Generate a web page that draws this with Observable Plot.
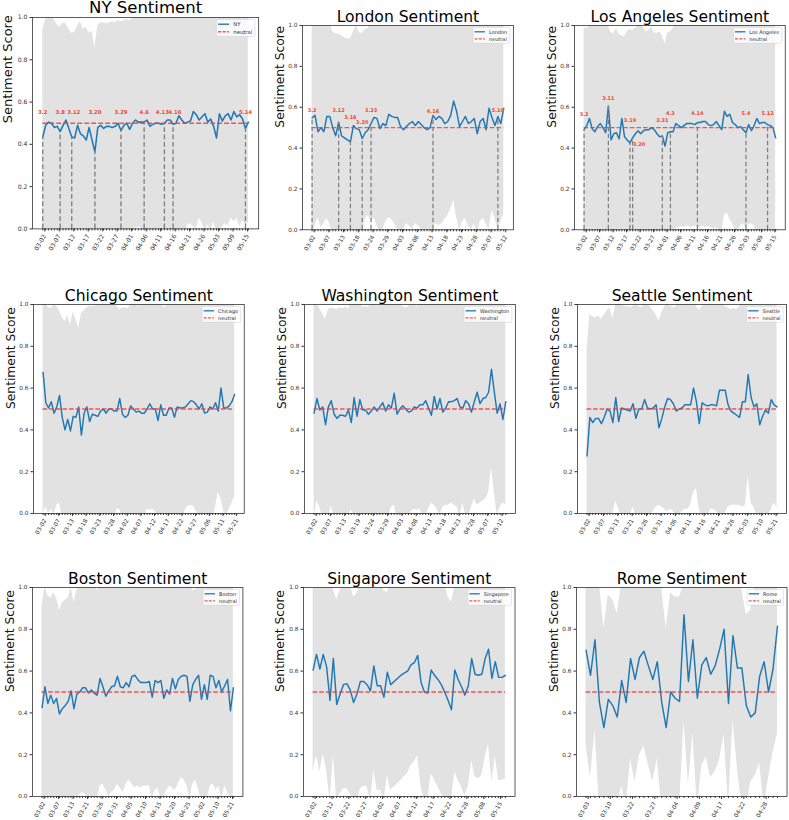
<!DOCTYPE html>
<html><head><meta charset="utf-8">
<script src="https://cdn.jsdelivr.net/npm/d3@7"></script>
<script src="https://cdn.jsdelivr.net/npm/@observablehq/plot@0.6"></script>
<style>
html,body{margin:0;padding:0;background:#fff;}
#root{position:relative;width:789px;height:820px;overflow:hidden;font-family:"DejaVu Sans",sans-serif;}
#root svg{position:absolute;overflow:visible;}
</style></head><body><div id="root"></div>
<script>
const NEUTRAL = 0.5;

// ---------- NY ----------
const nyTicks = ["03-02","03-07","03-12","03-17","03-22","03-27","04-01","04-06","04-11","04-16","04-21","04-26","05-03","05-09","05-15"];
const nyValues = [0.435,0.49,0.505,0.50,0.48,0.485,0.46,0.49,0.515,0.475,
 0.435,0.43,0.49,0.45,0.44,0.42,0.48,0.42,0.365,0.48,
 0.49,0.475,0.485,0.485,0.48,0.485,0.50,0.465,0.49,0.50,
 0.47,0.50,0.515,0.505,0.505,0.505,0.515,0.485,0.495,0.50,
 0.50,0.495,0.50,0.515,0.515,0.495,0.50,0.535,0.515,0.50,
 0.505,0.51,0.555,0.54,0.515,0.53,0.545,0.505,0.52,0.485,
 0.43,0.545,0.51,0.535,0.545,0.515,0.555,0.53,0.54,0.52,
 0.475,0.505];
const nyUpper = [0.94,0.99,1.0,1.0,0.99,0.965,0.955,0.975,0.97,0.945,
 0.925,0.93,0.96,0.98,0.945,0.955,0.925,0.935,0.855,0.96,
 0.975,0.975,0.97,0.975,0.98,0.975,0.985,0.98,0.985,0.99,
 0.985,0.995,1.01,1.02,1.02,1.02,1.02,0.995,1.02,1.02,
 1.02,1.02,1.02,1.02,1.02,1.02,1.02,1.02,1.02,1.02,
 1.02,1.02,1.02,1.02,1.02,1.02,1.02,1.02,1.02,1.02,
 1.02,1.02,1.02,1.02,1.02,1.02,1.02,1.02,1.02,1.02,
 1.02,1.02];
const nyLower = [-0.03,-0.03,-0.03,-0.03,-0.03,-0.03,-0.03,-0.03,-0.03,-0.03,
 -0.03,-0.03,-0.03,-0.03,-0.03,-0.03,-0.03,-0.03,-0.03,-0.03,
 -0.03,-0.03,-0.03,-0.03,-0.03,-0.03,-0.03,-0.03,-0.03,-0.03,
 -0.03,-0.03,0.005,0.008,0.004,-0.03,-0.03,-0.03,-0.03,-0.03,
 -0.03,-0.03,-0.03,-0.03,-0.03,-0.03,-0.03,-0.03,-0.03,-0.03,
 0.02,0.025,0.01,0.0,0.05,0.03,-0.01,0.02,-0.01,0.035,
 -0.01,-0.01,0.01,0.025,0.015,0.05,0.035,0.05,0.01,0.04,
 0.02,0.03];
const nyEvents = [
 {i:0,label:"3.2",y:0.552},{i:6,label:"3.8",y:0.552},{i:10,label:"3.12",y:0.552,lx:10.7},
 {i:18,label:"3.20",y:0.552},{i:27,label:"3.29",y:0.552},{i:35,label:"4.6",y:0.552},
 {i:42,label:"4.13",y:0.552,lx:41.3},{i:45,label:"4.16",y:0.552,lx:45.6},{i:70,label:"5.14",y:0.552}];

// ---------- London ----------
const londonTicks = ["03-02","03-07","03-13","03-18","03-24","03-29","04-03","04-08","04-13","04-18","04-23","04-28","05-07","05-12"];
const londonValues = [0.548,0.56,0.48,0.50,0.48,0.555,0.555,0.50,0.46,0.527,
 0.46,0.45,0.44,0.43,0.51,0.495,0.49,0.447,0.475,0.49,
 0.52,0.55,0.545,0.495,0.52,0.51,0.565,0.555,0.55,0.55,
 0.505,0.49,0.505,0.52,0.53,0.51,0.53,0.515,0.50,0.49,
 0.50,0.56,0.54,0.555,0.545,0.52,0.53,0.56,0.63,0.58,
 0.505,0.53,0.555,0.52,0.53,0.545,0.47,0.53,0.545,0.49,
 0.595,0.55,0.51,0.555,0.52,0.595];
const londonUpper = [1.02,1.02,1.02,1.02,1.02,1.02,1.02,0.97,0.96,0.96,
 0.95,0.94,0.935,0.935,0.97,1.0,0.965,0.96,0.98,0.985,
 1.02,1.02,1.02,1.02,1.02,1.02,1.02,1.02,1.02,1.02,
 1.02,1.02,1.02,1.02,1.02,1.02,1.02,1.02,1.02,1.02,
 1.02,1.02,1.02,1.02,1.02,1.02,1.02,1.02,1.02,1.02,
 1.02,1.02,1.02,1.02,1.02,1.02,1.02,1.02,1.02,1.02,
 1.02,1.02,1.02,1.02,1.02,1.02];
const londonLower = [-0.02,0.02,0.06,0.01,0.03,0.055,0.03,-0.02,-0.02,-0.02,
 -0.02,-0.02,-0.02,-0.02,-0.02,-0.02,-0.02,-0.01,0.05,0.07,
 0.04,0.06,0.02,-0.01,0.0,0.04,0.06,0.05,0.03,0.0,
 -0.02,0.0,0.03,0.02,0.0,0.03,0.02,0.0,-0.02,-0.02,
 -0.02,0.01,0.03,0.02,0.03,0.05,0.07,0.1,0.145,0.06,
 0.0,0.04,0.055,0.02,0.0,0.03,-0.02,0.04,0.055,0.03,
 0.0,0.095,0.06,0.0,0.04,0.08];
const londonEvents = [
 {i:0,label:"3.2",y:0.584},{i:9,label:"3.12",y:0.584},{i:13,label:"3.16",y:0.551},
 {i:17,label:"3.20",y:0.527},{i:20,label:"3.23",y:0.584},{i:41,label:"4.16",y:0.579},
 {i:63,label:"5.10",y:0.584}];

// ---------- Los Angeles ----------
const laTicks = ["03-02","03-07","03-12","03-17","03-22","03-27","04-01","04-06","04-11","04-16","04-21","04-26","05-03","05-09","05-15"];
const laValues = [0.49,0.51,0.545,0.495,0.48,0.505,0.52,0.50,0.475,0.605,
 0.44,0.47,0.475,0.445,0.545,0.455,0.44,0.425,0.45,0.47,
 0.485,0.47,0.485,0.49,0.49,0.50,0.49,0.47,0.455,0.46,
 0.41,0.475,0.48,0.48,0.52,0.51,0.50,0.51,0.52,0.52,
 0.52,0.515,0.525,0.525,0.53,0.53,0.515,0.51,0.515,0.53,
 0.51,0.49,0.58,0.555,0.565,0.525,0.515,0.50,0.505,0.49,
 0.475,0.515,0.485,0.51,0.545,0.52,0.525,0.525,0.515,0.51,
 0.50,0.45];
const laUpper = [0.99,0.985,1.0,1.02,1.02,1.02,1.02,1.02,1.02,1.0,
 0.965,0.96,0.985,0.955,0.95,0.945,0.97,0.98,0.975,0.985,
 1.0,1.0,0.99,0.97,0.975,0.99,0.965,0.96,0.97,0.95,
 0.91,0.965,0.97,0.985,1.02,1.02,1.02,1.02,1.02,1.02,
 1.02,1.02,1.02,1.02,1.02,1.02,1.02,1.02,1.02,1.02,
 1.02,1.02,1.02,1.02,1.02,1.02,1.02,1.02,1.02,1.02,
 1.02,1.02,1.02,1.02,1.02,1.02,1.02,1.02,1.02,1.02,
 1.02,1.02];
const laLower = [-0.03,-0.03,-0.03,-0.03,-0.03,-0.03,-0.03,-0.03,-0.03,-0.03,
 -0.03,-0.03,-0.03,-0.03,-0.03,-0.03,-0.03,-0.03,-0.03,-0.03,
 -0.03,-0.03,-0.03,-0.03,-0.03,-0.03,-0.03,-0.03,-0.03,-0.03,
 -0.03,-0.03,-0.03,-0.03,0.005,0.01,0.015,0.01,0.02,0.015,
 0.01,0.02,0.015,0.01,0.02,0.01,0.015,0.01,0.005,0.01,
 0.0,-0.01,0.07,0.085,0.05,0.03,0.0,-0.01,0.02,0.03,
 0.01,0.025,0.03,0.02,-0.02,-0.02,-0.02,-0.02,-0.02,-0.02,
 -0.02,-0.02];
const laEvents = [
 {i:0,label:"3.2",y:0.564},{i:9,label:"3.11",y:0.644},{i:17,label:"3.19",y:0.535},
 {i:18,label:"3.20",y:0.418,lx:20.4},{i:29,label:"3.31",y:0.535},{i:32,label:"4.3",y:0.568},
 {i:42,label:"4.14",y:0.568},{i:60,label:"5.4",y:0.568},{i:68,label:"5.12",y:0.568}];

// ---------- Chicago ----------
const chicagoTicks = ["03-02","03-07","03-13","03-18","03-23","03-28","04-02","04-07","04-12","04-17","04-22","04-27","05-06","05-11","05-21"];
const chicagoValues = [0.675,0.53,0.505,0.535,0.48,0.51,0.565,0.46,0.40,0.45,
 0.395,0.465,0.46,0.51,0.375,0.48,0.51,0.44,0.475,0.47,
 0.465,0.49,0.50,0.48,0.50,0.50,0.49,0.49,0.55,0.475,
 0.46,0.47,0.515,0.50,0.485,0.49,0.48,0.48,0.50,0.525,
 0.50,0.50,0.445,0.52,0.47,0.47,0.505,0.505,0.46,0.51,
 0.505,0.505,0.51,0.525,0.54,0.535,0.52,0.50,0.525,0.48,
 0.485,0.51,0.50,0.53,0.49,0.60,0.505,0.505,0.515,0.535,
 0.57];
const chicagoUpper = [1.02,1.0,0.985,0.98,1.0,0.99,0.97,0.94,0.917,0.95,
 0.90,0.965,0.93,0.885,0.955,0.97,0.985,0.99,0.99,0.99,
 1.0,1.02,1.02,1.02,1.02,1.02,1.0,0.99,0.975,0.985,
 0.985,0.98,1.0,1.02,1.0,0.99,1.02,1.02,1.02,1.0,
 1.02,1.02,1.02,1.02,0.985,0.99,1.02,1.02,1.02,1.02,
 1.02,1.02,1.02,1.02,1.02,1.02,1.02,1.02,1.02,1.02,
 1.02,1.02,1.02,1.02,1.02,1.02,1.02,1.02,1.02,1.02,
 1.02];
const chicagoLower = [0.0,0.03,0.0,0.02,-0.01,0.04,0.05,-0.02,-0.03,-0.03,
 -0.03,-0.03,-0.03,-0.03,-0.03,-0.03,-0.03,-0.03,-0.03,-0.03,
 -0.03,-0.03,-0.03,-0.03,-0.03,-0.03,-0.03,0.02,0.02,-0.03,
 -0.03,-0.03,-0.03,-0.03,-0.03,-0.03,-0.03,-0.03,0.02,0.015,
 0.02,0.01,-0.03,-0.03,-0.03,-0.03,-0.03,-0.03,-0.03,-0.03,
 -0.03,-0.03,0.02,0.035,0.04,0.035,0.01,-0.02,-0.02,-0.02,
 -0.02,-0.02,-0.02,0.03,0.1,0.07,0.01,-0.01,0.02,0.05,
 0.08];

// ---------- Washington ----------
const washingtonTicks = ["03-02","03-07","03-13","03-19","03-24","03-29","04-03","04-08","04-13","04-18","04-23","04-28","05-07","05-12"];
const washingtonValues = [0.48,0.55,0.495,0.51,0.425,0.51,0.54,0.475,0.455,0.47,
 0.47,0.465,0.495,0.435,0.555,0.465,0.545,0.495,0.495,0.475,
 0.49,0.51,0.49,0.51,0.53,0.49,0.52,0.505,0.575,0.475,
 0.50,0.515,0.50,0.485,0.49,0.51,0.505,0.52,0.52,0.54,
 0.505,0.47,0.56,0.50,0.55,0.485,0.505,0.535,0.535,0.54,
 0.55,0.51,0.505,0.54,0.525,0.485,0.535,0.58,0.525,0.55,
 0.555,0.58,0.69,0.58,0.48,0.525,0.45,0.535];
const washingtonUpper = [1.02,1.0,0.98,0.955,0.93,0.975,0.985,0.98,0.975,0.985,
 0.98,0.99,0.975,1.02,1.02,1.02,1.02,0.985,0.99,0.985,
 1.02,1.02,0.99,1.02,1.02,1.02,1.02,1.02,1.02,1.02,
 1.02,0.99,0.985,0.99,1.02,1.02,0.985,1.02,1.02,1.02,
 1.02,1.02,1.02,1.02,1.02,1.02,1.02,1.02,1.02,1.02,
 1.02,1.02,1.02,1.02,1.02,1.02,1.02,1.02,1.02,1.02,
 1.02,1.02,1.02,1.02,1.02,1.02,1.02,1.02];
const washingtonLower = [-0.02,0.06,0.03,-0.02,-0.02,-0.02,0.04,-0.02,-0.02,-0.02,
 -0.02,-0.02,-0.02,0.02,-0.02,-0.02,-0.02,-0.02,-0.02,-0.02,
 -0.02,-0.02,-0.02,-0.02,-0.02,-0.02,-0.02,0.03,0.04,-0.02,
 -0.02,-0.02,-0.02,-0.02,0.01,0.02,0.015,0.02,-0.01,-0.01,
 0.02,0.05,0.04,0.02,-0.01,0.03,0.04,0.04,0.05,0.04,
 0.03,-0.01,0.05,-0.01,-0.01,0.03,0.07,0.04,0.05,0.06,
 0.07,0.1,0.22,0.1,-0.01,0.03,0.05,0.04];

// ---------- Seattle ----------
const seattleTicks = ["03-02","03-07","03-13","03-21","03-26","03-31","04-06","04-11","04-16","04-21","04-26","05-03","05-10","05-21"];
const seattleValues = [0.275,0.46,0.435,0.455,0.455,0.43,0.46,0.50,0.49,0.435,
 0.555,0.44,0.505,0.50,0.495,0.49,0.525,0.455,0.50,0.50,
 0.545,0.505,0.50,0.505,0.52,0.41,0.455,0.51,0.55,0.545,
 0.525,0.49,0.50,0.505,0.52,0.52,0.52,0.60,0.535,0.43,
 0.53,0.52,0.515,0.52,0.52,0.515,0.59,0.59,0.59,0.52,
 0.49,0.48,0.47,0.46,0.535,0.535,0.665,0.555,0.51,0.525,
 0.425,0.465,0.495,0.48,0.545,0.52,0.51];
const seattleUpper = [0.78,0.955,0.94,0.935,0.945,0.93,0.95,0.97,0.985,0.93,
 1.0,1.02,1.0,0.99,0.99,0.985,0.99,1.0,0.99,0.985,
 1.0,1.0,0.99,0.97,0.95,0.92,0.96,0.99,1.0,0.99,
 0.985,0.99,1.02,1.02,1.02,1.02,1.02,1.02,0.99,0.97,
 0.99,1.02,1.02,1.02,1.02,1.02,1.02,1.02,0.99,0.985,
 0.975,0.98,0.975,0.99,1.02,1.02,1.02,1.02,1.02,1.02,
 1.02,1.02,1.02,1.02,1.02,1.02,1.02];
const seattleLower = [-0.05,-0.02,-0.02,-0.02,-0.02,-0.02,-0.02,-0.02,-0.02,0.0,
 0.06,0.02,-0.02,-0.02,-0.02,-0.01,0.03,-0.01,-0.02,-0.02,
 -0.02,-0.02,-0.01,0.01,0.03,0.04,0.03,0.02,0.01,0.02,
 0.01,-0.01,-0.01,0.01,0.02,0.02,0.04,0.1,0.12,0.02,
 -0.01,-0.01,-0.01,0.02,0.02,0.01,-0.01,-0.01,0.0,0.03,
 0.04,0.04,0.04,0.04,0.03,0.04,0.18,0.05,0.03,-0.01,
 -0.02,-0.02,-0.02,-0.01,0.02,0.05,0.03];

// ---------- Boston ----------
const bostonTicks = ["03-02","03-07","03-13","03-21","03-26","03-31","04-05","04-10","04-15","04-20","04-25","05-02","05-10","05-21"];
const bostonValues = [0.425,0.525,0.445,0.485,0.445,0.47,0.395,0.42,0.435,0.455,
 0.505,0.42,0.49,0.50,0.52,0.52,0.495,0.51,0.495,0.485,
 0.565,0.525,0.48,0.505,0.525,0.53,0.575,0.525,0.52,0.545,
 0.525,0.575,0.58,0.56,0.545,0.545,0.545,0.55,0.475,0.555,
 0.545,0.555,0.47,0.51,0.49,0.565,0.515,0.56,0.575,0.58,
 0.575,0.455,0.535,0.56,0.58,0.465,0.535,0.465,0.58,0.575,
 0.52,0.555,0.50,0.53,0.56,0.41,0.52];
const bostonUpper = [0.915,1.0,0.96,0.95,0.975,0.95,0.89,0.925,0.94,0.95,
 1.0,0.93,0.985,1.02,1.02,1.02,1.02,1.02,1.02,0.985,
 1.02,1.02,1.02,1.02,1.02,1.02,1.02,1.02,1.02,1.02,
 1.02,1.02,1.02,1.02,1.02,1.02,1.02,1.02,1.02,1.02,
 1.02,1.02,1.02,1.02,1.02,1.02,1.02,1.02,1.02,1.02,
 1.02,1.02,0.985,0.99,1.02,1.02,1.02,1.02,1.02,1.02,
 1.02,1.02,1.02,1.02,1.02,1.02,1.02];
const bostonLower = [-0.03,-0.03,-0.03,-0.03,-0.03,-0.03,-0.03,-0.03,-0.03,-0.03,
 -0.03,-0.03,-0.03,0.01,0.02,0.01,-0.02,-0.02,-0.02,-0.02,
 0.05,0.06,0.03,0.0,0.02,0.03,0.06,0.04,0.02,0.06,
 0.08,0.06,0.04,0.05,0.04,0.05,0.05,0.05,-0.01,0.03,
 0.04,-0.01,-0.01,0.03,0.05,0.04,0.03,0.06,0.09,0.08,
 0.05,-0.01,0.06,0.08,0.03,-0.01,-0.01,-0.01,0.05,0.06,
 0.03,0.05,-0.01,0.05,0.02,-0.01,-0.01];

// ---------- Singapore ----------
const singaporeTicks = ["03-02","03-12","03-22","03-27","04-02","04-07","04-12","04-17","04-22","04-28","05-08","05-15"];
const singaporeValues = [0.605,0.68,0.61,0.68,0.62,0.46,0.66,0.44,0.49,0.535,
 0.54,0.51,0.45,0.49,0.55,0.55,0.535,0.505,0.625,0.53,
 0.53,0.475,0.595,0.535,0.55,0.565,0.58,0.59,0.60,0.63,
 0.64,0.675,0.545,0.50,0.495,0.605,0.58,0.56,0.535,0.50,
 0.46,0.415,0.605,0.56,0.525,0.485,0.53,0.66,0.585,0.58,
 0.585,0.66,0.705,0.565,0.645,0.57,0.57,0.58];
const singaporeUpper = [1.02,1.02,1.02,1.02,1.02,1.02,0.99,0.94,0.985,1.02,
 1.02,1.02,0.955,0.97,1.02,1.02,1.02,1.02,1.02,1.02,
 1.02,0.985,0.975,1.02,1.02,1.02,1.02,1.02,1.02,1.02,
 1.02,1.02,1.02,1.02,1.02,1.02,1.02,1.02,1.02,1.02,
 0.955,0.93,1.0,1.02,1.02,1.02,1.02,1.02,1.02,1.02,
 1.02,1.02,1.02,1.02,1.02,1.02,1.02,1.02];
const singaporeLower = [0.117,0.197,0.117,0.205,0.125,-0.02,0.197,-0.02,0.013,0.037,
 0.037,0.013,-0.02,-0.02,0.037,0.05,0.045,-0.02,0.125,0.03,
 0.03,-0.02,0.1,0.03,0.045,0.06,0.077,0.093,0.11,0.15,
 0.165,0.197,0.045,-0.02,-0.02,0.11,0.077,0.045,0.013,-0.02,
 -0.02,-0.02,0.117,0.077,0.045,0.005,0.045,0.173,0.093,0.085,
 0.1,0.19,0.25,0.07,0.19,0.077,0.077,0.085];

// ---------- Rome ----------
const romeTicks = ["03-03","03-10","03-22","03-27","04-04","04-09","04-17","04-22","04-28"];
const romeValues = [0.70,0.58,0.75,0.45,0.33,0.465,0.435,0.38,0.555,0.45,
 0.66,0.56,0.665,0.695,0.625,0.56,0.645,0.45,0.33,0.50,
 0.47,0.455,0.87,0.55,0.75,0.47,0.63,0.665,0.585,0.625,
 0.705,0.80,0.445,0.77,0.615,0.615,0.435,0.38,0.40,0.575,
 0.645,0.50,0.61,0.815];
const romeUpper = [1.02,1.02,1.02,1.02,0.805,0.965,0.94,0.875,1.02,1.02,
 1.02,1.02,1.02,1.02,1.02,1.02,1.02,1.0,0.805,0.975,
 0.955,0.955,1.02,1.02,1.02,1.02,1.02,1.02,1.02,1.02,
 1.02,1.02,1.02,1.02,1.02,0.99,0.87,0.89,1.02,1.02,
 1.02,1.02,1.02,1.02];
const romeLower = [0.245,0.09,0.32,-0.05,-0.05,-0.05,-0.05,-0.05,0.05,-0.05,
 0.18,0.07,0.2,0.24,0.15,0.07,0.18,-0.05,-0.05,-0.05,
 -0.05,-0.05,0.36,0.06,0.3,-0.05,0.145,0.19,0.09,0.12,
 0.175,0.3,-0.05,0.36,0.135,-0.05,-0.05,0.07,0.1,0.16,
 -0.05,0.09,0.21,0.3];

const cities = [
 {name:"NY", ticks:nyTicks, values:nyValues, upper:nyUpper, lower:nyLower, events:nyEvents},
 {name:"London", ticks:londonTicks, values:londonValues, upper:londonUpper, lower:londonLower, events:londonEvents},
 {name:"Los Angeles", ticks:laTicks, values:laValues, upper:laUpper, lower:laLower, events:laEvents},
 {name:"Chicago", ticks:chicagoTicks, values:chicagoValues, upper:chicagoUpper, lower:chicagoLower},
 {name:"Washington", ticks:washingtonTicks, values:washingtonValues, upper:washingtonUpper, lower:washingtonLower},
 {name:"Seattle", ticks:seattleTicks, values:seattleValues, upper:seattleUpper, lower:seattleLower},
 {name:"Boston", ticks:bostonTicks, values:bostonValues, upper:bostonUpper, lower:bostonLower},
 {name:"Singapore", ticks:singaporeTicks, values:singaporeValues, upper:singaporeUpper, lower:singaporeLower},
 {name:"Rome", ticks:romeTicks, values:romeValues, upper:romeUpper, lower:romeLower}
];

// page layout of each panel (pixel positions of first/last point and frame top/bottom)
const layouts = [
 {x0:42.7, x1:248.3, top:17.3, bottom:228.7, k:1.06},
 {x0:312, x1:503.7, top:25, bottom:229.3, k:1},
 {x0:583.7, x1:775.3, top:25, bottom:229.3, k:1},
 {x0:42.7, x1:234.3, top:304.3, bottom:513.3, k:1},
 {x0:314, x1:505.7, top:304.3, bottom:513.3, k:1},
 {x0:586, x1:776, top:304.3, bottom:513.3, k:1},
 {x0:42, x1:233.3, top:587.3, bottom:796.3, k:1},
 {x0:313, x1:505.3, top:587.3, bottom:796.3, k:1},
 {x0:585.3, x1:776.7, top:587.3, bottom:796.3, k:1}
];

const root = document.getElementById("root");

function drawPanel(city, L) {
  const k = L.k;
  const n = city.values.length;
  const span = L.x1 - L.x0;
  const fl = L.x0 - 0.05 * span, fr = L.x1 + 0.05 * span;
  const ml = 44, mt = 30, mr = 6, mb = 40;
  const fw = fr - fl, fh = L.bottom - L.top;
  const W = fw + ml + mr, H = fh + mt + mb;
  const pad = (n - 1) * 0.05;
  const rows = city.values.map((v, i) => ({i, v, hi: city.upper[i], lo: city.lower[i]}));
  const majors = city.ticks.map((t, j) => j * 5);
  const marks = [
    Plot.areaY(rows, {x: "i", y1: "lo", y2: "hi", fill: "#e2e2e2", clip: true}),
    Plot.lineY(rows, {x: "i", y: "v", stroke: "#1f77b4", strokeWidth: 1.45 * k, clip: true}),
    Plot.ruleY([NEUTRAL], {x1: 0, x2: n - 1, stroke: "#f23b3b", strokeOpacity: 0.85, strokeWidth: 1.35 * k, strokeDasharray: `${4.6 * k},${2 * k}`})
  ];
  if (city.events) {
    marks.push(Plot.ruleX(city.events, {x: "i", y1: 0, y2: d => city.values[d.i], stroke: "#7f7f7f", strokeWidth: 1.25 * k, strokeDasharray: `${4.5 * k},${2.5 * k}`}));
    marks.push(Plot.text(city.events, {x: d => (d.lx ?? d.i), y: "y", text: "label", fill: "#f5452a", fontSize: 5 * k, fontWeight: "bold", lineAnchor: "middle"}));
  }
  marks.push(
    Plot.frame({stroke: "#333", strokeWidth: 0.8}),
    Plot.axisY([0, 0.2, 0.4, 0.6, 0.8, 1.0], {tickFormat: d3.format(".1f"), tickSize: 2.5, tickPadding: 2.5, fontSize: 5.8 * k, fill: "#333", stroke: "#333", label: null}),
    Plot.axisX(d3.range(n), {tickSize: 2, tickFormat: () => "", stroke: "#333", label: null}),
    Plot.axisX(majors, {tickSize: 3, tickFormat: d => city.ticks[d / 5], tickRotate: -60, textAnchor: "end", lineAnchor: "middle", tickPadding: 3, dx: 2, fontSize: 5.8 * k, fill: "#333", stroke: "#333", label: null}),
    Plot.text([`${city.name} Sentiment`], {text: d => d, frameAnchor: "top", dy: -3.8 * k, lineAnchor: "bottom", fontSize: 15.6 * k, fill: "#000"}),
    Plot.text(["Sentiment Score"], {text: d => d, frameAnchor: "left", rotate: -90, dx: -19 * k, lineAnchor: "bottom", fontSize: 12.3 * k, fill: "#111"})
  );
  const svg = Plot.plot({
    width: W, height: H,
    marginLeft: ml, marginTop: mt, marginRight: mr, marginBottom: mb,
    x: {domain: [-pad, n - 1 + pad], axis: null},
    y: {domain: [0, 1], axis: null},
    style: {background: "transparent", overflow: "visible", fontFamily: "DejaVu Sans"},
    marks
  });
  svg.style.left = (fl - ml) + "px";
  svg.style.top = (L.top - mt) + "px";
  root.appendChild(svg);

  // legend (top-right inside the frame)
  const frR = ml + fw, frT = mt;
  const g = d3.select(svg).append("g").attr("font-family", "DejaVu Sans").attr("font-size", 5 * k).attr("text-anchor", "start");
  const labels = [city.name, "neutral"];
  const texts = labels.map(s => g.append("text").attr("fill", "#333").attr("text-anchor", "start").attr("dy", "0.35em").text(s));
  const tw = d3.max(texts, t => t.node().getComputedTextLength());
  const bw = 16 * k + tw + 2.6 * k, bh = 16 * k;
  const bx = frR - 3 * k - bw, by = frT + 2.3 * k;
  g.insert("rect", "text").attr("x", bx).attr("y", by).attr("width", bw).attr("height", bh)
    .attr("rx", 1.5).attr("fill", "white").attr("fill-opacity", 0.8).attr("stroke", "#d4d4d4").attr("stroke-width", 0.6);
  const ys = [by + 4.5 * k, by + 11.6 * k];
  g.append("line").attr("x1", bx + 1.6 * k).attr("x2", bx + 12 * k).attr("y1", ys[0]).attr("y2", ys[0])
    .attr("stroke", "#1f77b4").attr("stroke-width", 1.3 * k);
  g.append("line").attr("x1", bx + 1.6 * k).attr("x2", bx + 12 * k).attr("y1", ys[1]).attr("y2", ys[1])
    .attr("stroke", "#f23b3b").attr("stroke-opacity", 0.85).attr("stroke-width", 1.3 * k).attr("stroke-dasharray", `${3 * k},${1.3 * k}`);
  texts.forEach((t, j) => t.attr("x", bx + 16 * k).attr("y", ys[j]));
}

cities.forEach((c, i) => drawPanel(c, layouts[i]));
</script>
</body></html>
